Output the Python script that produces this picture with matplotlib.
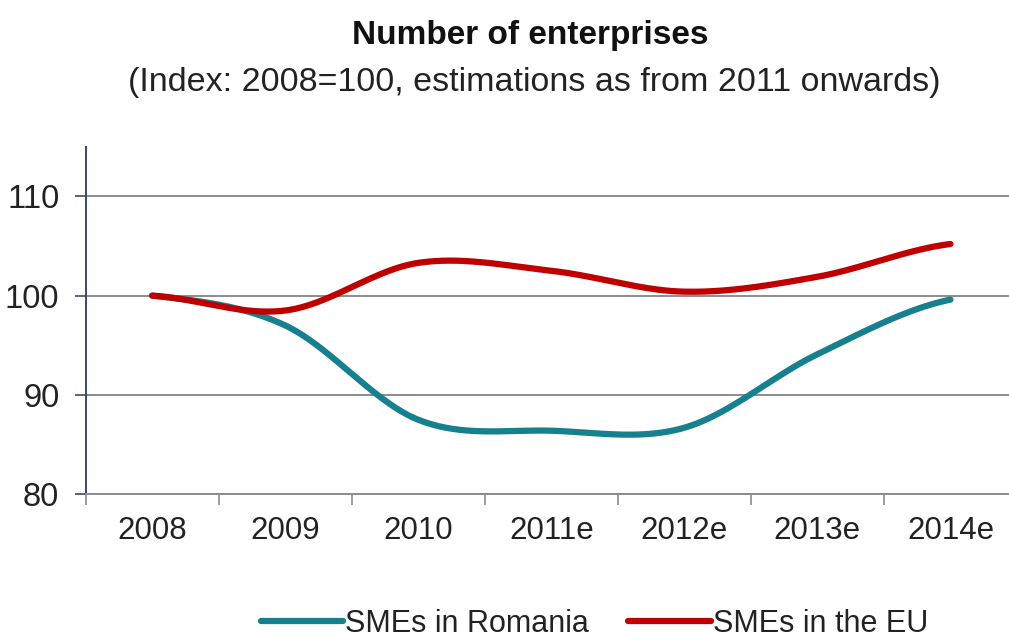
import numpy as np
import matplotlib.pyplot as plt
from matplotlib.lines import Line2D

plt.rcParams['font.family'] = ['Liberation Sans', 'DejaVu Sans']

# Index values, 2008 = 100 (2011 onwards are estimates)
years = ['2008', '2009', '2010', '2011e', '2012e', '2013e', '2014e']
smes_romania = [100.0, 97.0, 87.5, 86.4, 86.7, 94.1, 99.6]
smes_eu = [100.0, 98.5, 103.3, 102.5, 100.4, 101.9, 105.2]

teal = '#17808f'
red = '#c00000'


def smooth(values, steps=40):
    # Catmull-Rom spline through the points, like a spreadsheet "smoothed line"
    y = np.asarray(values, dtype=float)
    n = len(y)
    tang = np.empty(n)
    tang[1:-1] = (y[2:] - y[:-2]) / 2
    tang[0] = (y[1] - y[0]) / 2
    tang[-1] = (y[-1] - y[-2]) / 2
    xs, ys = [], []
    t = np.linspace(0, 1, steps)
    h00 = 2 * t**3 - 3 * t**2 + 1
    h10 = t**3 - 2 * t**2 + t
    h01 = -2 * t**3 + 3 * t**2
    h11 = t**3 - t**2
    for i in range(n - 1):
        xs.append(i + t)
        ys.append(h00 * y[i] + h10 * tang[i] + h01 * y[i + 1] + h11 * tang[i + 1])
    return np.concatenate(xs), np.concatenate(ys)


fig = plt.figure(figsize=(10.09, 6.41), dpi=100)
ax = fig.add_axes([0.0849, 0.2289, 0.923, 0.5423])

x, y = smooth(smes_romania)
ax.plot(x, y, color=teal, lw=4.5, solid_capstyle='round', zorder=3)
x, y = smooth(smes_eu)
ax.plot(x, y, color=red, lw=4.5, solid_capstyle='round', zorder=4)

ax.set_xlim(-0.5, len(years) - 0.5)
ax.set_ylim(80, 115)

# category axis: ticks between categories, labels centred
ax.set_xticks(np.arange(len(years) + 1) - 0.5)
ax.set_xticklabels([])
ax.set_xticks(np.arange(len(years)), minor=True)
ax.set_xticklabels(years, minor=True)
ax.tick_params(axis='x', which='major', length=8, width=1.2, color='#8c8c8c', direction='out')
ax.tick_params(axis='x', which='minor', length=0, pad=16, labelsize=22.5, labelcolor='#222222')

ax.set_yticks([80, 90, 100, 110])
ax.tick_params(axis='y', length=8, width=1.2, color='#3b4a66', pad=11, labelsize=23.5,
               labelcolor='#222222')

ax.yaxis.grid(True, color='#8c8c8c', lw=1.4)
ax.set_axisbelow(True)
for s in ['top', 'right']:
    ax.spines[s].set_visible(False)
ax.spines['left'].set_color('#3b4a66')
ax.spines['left'].set_linewidth(1.4)
ax.spines['bottom'].set_color('#8c8c8c')
ax.spines['bottom'].set_linewidth(1.4)

fig.text(0.526, 0.945, 'Number of enterprises', ha='center', va='center',
         fontsize=24, fontweight='bold', color='#111111')
fig.text(0.529, 0.872, '(Index: 2008=100, estimations as from 2011 onwards)',
         ha='center', va='center', fontsize=24.5, color='#222222')

handles = [Line2D([], [], color=teal, lw=4.5, solid_capstyle='round'),
           Line2D([], [], color=red, lw=4.5, solid_capstyle='round')]
fig.legend(handles, ['SMEs in Romania', 'SMEs in the EU'], loc='center',
           bbox_to_anchor=(0.589, 0.027), ncol=2, frameon=False, fontsize=22,
           handlelength=2.7, handletextpad=0.05, columnspacing=1.3,
           labelcolor='#222222', borderpad=0.1)

fig.savefig('out.png', dpi=100)
